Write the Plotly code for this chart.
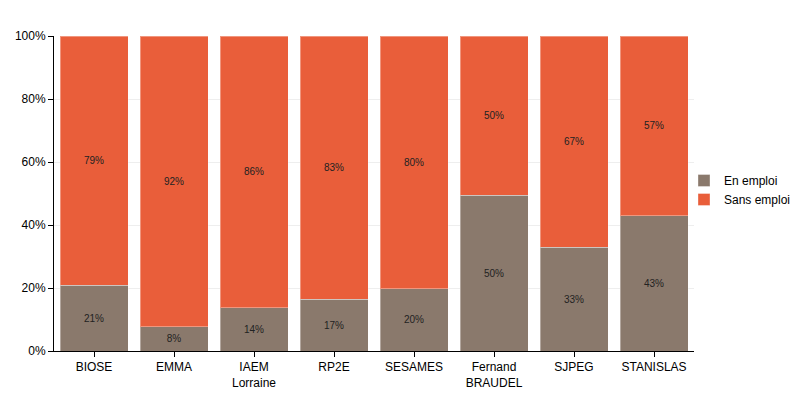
import plotly.graph_objects as go

categories = ["BIOSE", "EMMA", "IAEM<br>Lorraine", "RP2E", "SESAMES", "Fernand<br>BRAUDEL", "SJPEG", "STANISLAS"]
en_emploi = [20.9, 7.7, 13.8, 16.4, 19.7, 49.5, 33.0, 42.9]
sans_emploi = [100 - v for v in en_emploi]
en_labels = ["21%", "8%", "14%", "17%", "20%", "50%", "33%", "43%"]
sans_labels = ["79%", "92%", "86%", "83%", "80%", "50%", "67%", "57%"]
y_ticks = [0, 20, 40, 60, 80, 100]
y_ticktext = ["0%", "20%", "40%", "60%", "80%", "100%"]

fig = go.Figure()
fig.add_trace(go.Bar(
    x=categories, y=en_emploi, name="En emploi",
    marker=dict(color="#8A796C", line=dict(color="rgba(255,255,255,0.35)", width=1)),
    text=en_labels, textposition="inside", insidetextanchor="middle",
    textfont=dict(size=10, color="#222"), hoverinfo="skip",
))
fig.add_trace(go.Bar(
    x=categories, y=sans_emploi, name="Sans emploi",
    marker=dict(color="#E95E3A", line=dict(color="rgba(255,255,255,0.35)", width=1)),
    text=sans_labels, textposition="inside", insidetextanchor="middle",
    textfont=dict(size=10, color="#222"), hoverinfo="skip",
))

fig.update_layout(
    barmode="stack", bargap=0.15,
    width=792, height=392,
    margin=dict(l=0, r=0, t=0, b=0),
    plot_bgcolor="white", paper_bgcolor="white",
    font=dict(family="Liberation Sans, Arial, sans-serif", size=12, color="#000"),
    uniformtext=dict(mode="show", minsize=10),
    legend=dict(x=676 / 792, xanchor="left", y=1 - 158 / 392, yanchor="top",
                font=dict(size=12), itemwidth=30, tracegroupgap=0,
                traceorder="normal", bgcolor="rgba(0,0,0,0)"),
    showlegend=True,
)
fig.update_xaxes(domain=[46 / 792, 686 / 792], automargin=False,
                 showline=True, linecolor="#000", linewidth=1, ticks="outside",
                 ticklen=5, tickcolor="#000", showgrid=False)
fig.update_yaxes(domain=[(392 - 343) / 392, (392 - 28) / 392], automargin=False,
                 range=[0, 100], tickvals=y_ticks, ticktext=y_ticktext,
                 showline=True, linecolor="#000", linewidth=1, ticks="outside",
                 ticklen=5, tickcolor="#000", showgrid=True, gridcolor="#eeeeee",
                 zeroline=False)

fig.write_html("out.html")
